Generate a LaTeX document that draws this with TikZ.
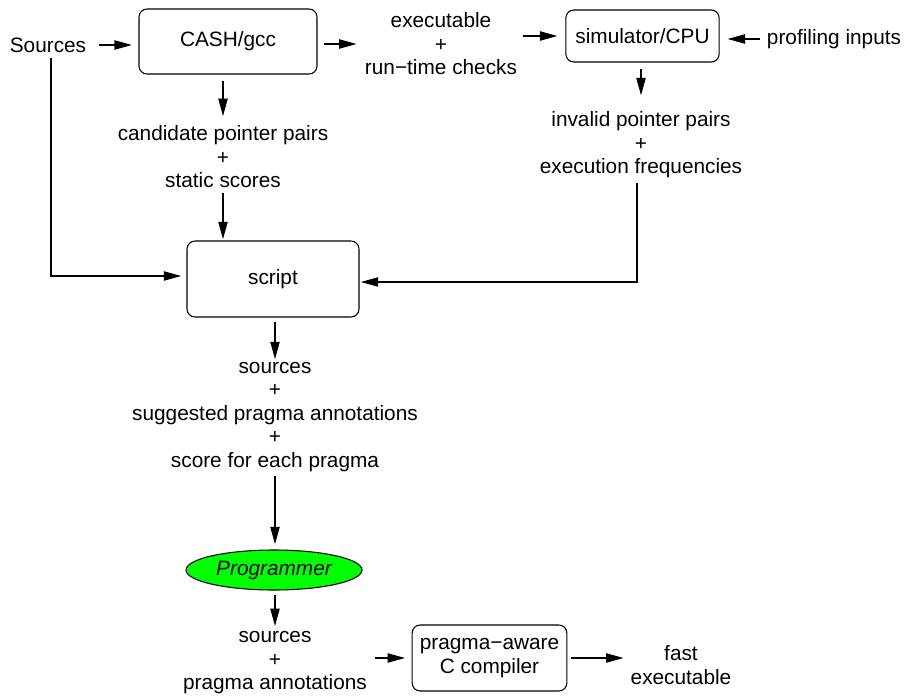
\documentclass[tikz,border=0pt]{standalone}
\usepackage{fontspec}
\setmainfont{Liberation Sans}
\usetikzlibrary{arrows.meta,shapes.geometric}

\begin{document}
\begin{tikzpicture}[x=0.75pt,y=-0.75pt,line width=0.8pt]
	\tikzstyle{every node}=[font=\fontsize{15.6pt}{17.6pt}\selectfont,align=center]
	\tikzstyle{box}=[draw,rounded corners=6pt]
	\tikzstyle{lbl}=[inner sep=0pt]
	\tikzstyle{arr}=[-{Triangle[length=13pt,width=7pt]},shorten <=3pt,shorten >=4pt]
	\useasboundingbox (0,0) rectangle (907,696);

	% top row
	\node (src)  [lbl] at (48,45)  {Sources};
	\node (cash) [box,minimum width=133.5pt,minimum height=48.75pt] at (228,41.5) {CASH/gcc};
	\node (exec) [lbl] at (441,44) {executable\\+\\run\textminus time checks};
	\node (sim)  [box,minimum width=115pt,minimum height=39pt] at (642.5,36) {simulator/CPU};
	\node (prof) [lbl] at (834,39) {profiling inputs};

	% middle
	\node (cand)   [lbl] at (223,157) {candidate pointer pairs\\+\\static scores};
	\node (inv)    [lbl] at (641,145) {invalid pointer pairs\\+\\execution frequencies};
	\node (script) [box,minimum width=129pt,minimum height=57pt] at (273,279) {script};
	\node (sugg)   [lbl] at (275,417) {sources\\+\\suggested pragma annotations\\+\\score for each pragma};
	\node (prog)   [draw,ellipse,fill=green,minimum width=127pt,minimum height=30pt,font=\fontsize{15.6pt}{17.6pt}\selectfont\itshape] at (274,570) {Programmer};

	% bottom row
	\node (ann)    [lbl] at (275,663) {sources\\+\\pragma annotations};
	\node (pragma) [box,minimum width=116pt,minimum height=49.5pt] at (489.5,658) {pragma\textminus aware\\C compiler};
	\node (fast)   [lbl] at (681,665) {fast\\executable};

	\draw[arr,shorten <=9pt,shorten >=5pt] (src) -- (src -| cash.west);
	\draw[arr,shorten <=4.5pt,shorten >=6pt] (exec.west -| cash.east) -- (exec.west);
	\draw[arr,shorten <=3.75pt,shorten >=6pt] (exec.east |- sim.west) -- (sim.west);
	\draw[arr,shorten <=4.5pt,shorten >=6pt] (prof.west) -- (prof.west -| sim.east);
	\draw[arr,shorten <=4.5pt,shorten >=7pt] (cash.south -| cand.north) -- (cand.north);
	\draw[arr,shorten >=1pt] (cand.south) -- (cand.south |- script.north);
	\draw[arr,shorten <=5pt,shorten >=12pt] (sim.south -| inv.north) -- (inv.north);
	\draw[arr,shorten <=4pt] ([xshift=2.25pt]src.south) |- ([yshift=2.25pt]script.west);
	\draw[arr,shorten >=1pt] ([xshift=-3pt]inv.south) |- ([yshift=-2.25pt]script.east);
	\draw[arr,shorten >=2pt] (script.south -| sugg.north) -- (sugg.north);
	\draw[arr] (sugg.south) -- (sugg.south |- prog.north);
	\draw[arr] (prog.south -| ann.north) -- (ann.north);
	\draw[arr,shorten <=6pt,shorten >=5pt] (ann.east |- pragma.west) -- (pragma.west);
	\draw[arr,shorten >=5pt] (pragma.east) -- (pragma.east -| fast.west);
\end{tikzpicture}
\end{document}
